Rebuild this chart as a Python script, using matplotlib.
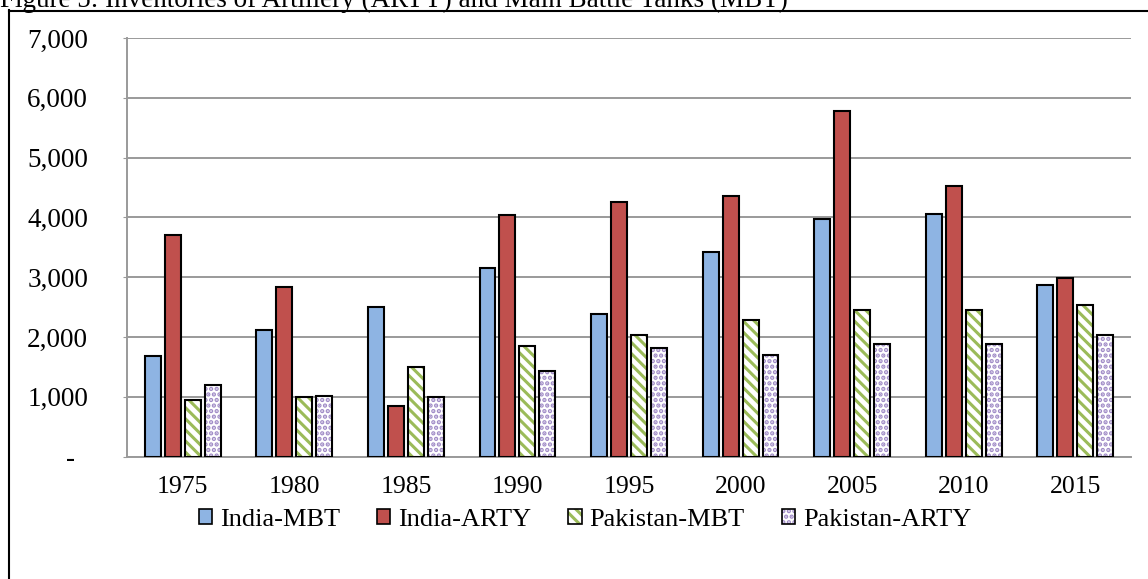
import numpy as np
import matplotlib
matplotlib.use("Agg")
import matplotlib.pyplot as plt
from matplotlib.patches import Patch
from matplotlib.lines import Line2D

# data
years = ["1975", "1980", "1985", "1990", "1995", "2000", "2005", "2010", "2015"]
india_mbt = [1680, 2110, 2500, 3150, 2390, 3420, 3975, 4050, 2870]
india_arty = [3700, 2840, 840, 4040, 4250, 4355, 5780, 4530, 2990]
pakistan_mbt = [950, 1000, 1500, 1850, 2040, 2285, 2460, 2460, 2530]
pakistan_arty = [1200, 1010, 1000, 1440, 1810, 1700, 1890, 1890, 2030]
series_names = ["India-MBT", "India-ARTY", "Pakistan-MBT", "Pakistan-ARTY"]
y_ticks = [0, 1000, 2000, 3000, 4000, 5000, 6000, 7000]
y_labels = ["-  ", "1,000", "2,000", "3,000", "4,000", "5,000", "6,000", "7,000"]

plt.rcParams["font.family"] = ["Liberation Serif", "DejaVu Serif"]
plt.rcParams["hatch.linewidth"] = 2.2

W, H = 1148, 579
fig = plt.figure(figsize=(W / 100, H / 100), dpi=100)
ax = fig.add_axes([127 / W, 1 - 456.7 / H, (1131 - 127) / W, (456.7 - 38) / H])

x = np.arange(len(years))
step = 0.179
width = 0.143
edge_lw = 1.5

# solid bars
ax.bar(x - 1.5 * step, india_mbt, width, color="#8EB4E3", edgecolor="black", linewidth=edge_lw, zorder=3)
ax.bar(x - 0.5 * step, india_arty, width, color="#C0504D", edgecolor="black", linewidth=edge_lw, zorder=3)

# hatched bars: pattern first, black outline on top
ax.bar(x + 0.5 * step, pakistan_mbt, width, color="white", edgecolor="#9BBB59", hatch="\\\\\\", linewidth=0, zorder=3)
ax.bar(x + 0.5 * step, pakistan_mbt, width, fill=False, edgecolor="black", linewidth=edge_lw, zorder=4)
ax.bar(x + 1.5 * step, pakistan_arty, width, color="white", edgecolor="#9F8AC6", hatch="...", linewidth=0, zorder=3)
ax.bar(x + 1.5 * step, pakistan_arty, width, fill=False, edgecolor="black", linewidth=edge_lw, zorder=4)

ax.set_xlim(-0.5, len(years) - 0.5)
ax.set_ylim(0, 7000)
ax.set_yticks(y_ticks)
ax.set_yticklabels(y_labels)
ax.set_xticks(x)
ax.set_xticklabels(years)
ax.grid(axis="y", color="#9A9A9A", linewidth=1.4, zorder=0)
ax.set_axisbelow(True)
for side in ["top", "right"]:
    ax.spines[side].set_visible(False)
ax.spines["left"].set_color("#9A9A9A")
ax.spines["bottom"].set_color("#9A9A9A")
ax.spines["left"].set_linewidth(1.4)
ax.spines["bottom"].set_linewidth(1.4)
ax.tick_params(axis="y", labelsize=19.5, length=3, color="#9A9A9A", pad=25)
ax.tick_params(axis="x", labelsize=18.5, length=0, pad=14)

# legend with proxy handles (pattern + black outline overlaid)
handles = [
    Patch(facecolor="#8EB4E3", edgecolor="black", linewidth=1.2),
    Patch(facecolor="#C0504D", edgecolor="black", linewidth=1.2),
    (Patch(facecolor="white", edgecolor="#9BBB59", hatch="\\\\\\", linewidth=0),
     Patch(fill=False, edgecolor="black", linewidth=1.2)),
    (Patch(facecolor="white", edgecolor="#9F8AC6", hatch="...", linewidth=0),
     Patch(fill=False, edgecolor="black", linewidth=1.2)),
]
fig.legend(handles, series_names, loc="center left", bbox_to_anchor=(199 / W, 1 - 520 / H),
           ncol=4, frameon=False, fontsize=19, handlelength=0.5, handleheight=0.5,
           handletextpad=0.3, columnspacing=1.4, borderpad=0, borderaxespad=0)

# outer frame lines and the cut-off caption above
fig.add_artist(Line2D([9 / W, 9 / W], [0, 1 - 10 / H], transform=fig.transFigure, color="black", linewidth=1.5))
fig.add_artist(Line2D([9 / W, 1], [1 - 11 / H, 1 - 11 / H], transform=fig.transFigure, color="black", linewidth=1.5))
fig.text(0, 1 - 7 / H, "Figure 5: Inventories of Artillery (ARTY) and Main Battle Tanks (MBT)",
         fontsize=19.5, va="baseline", ha="left")

fig.savefig("out.png", dpi=100)
